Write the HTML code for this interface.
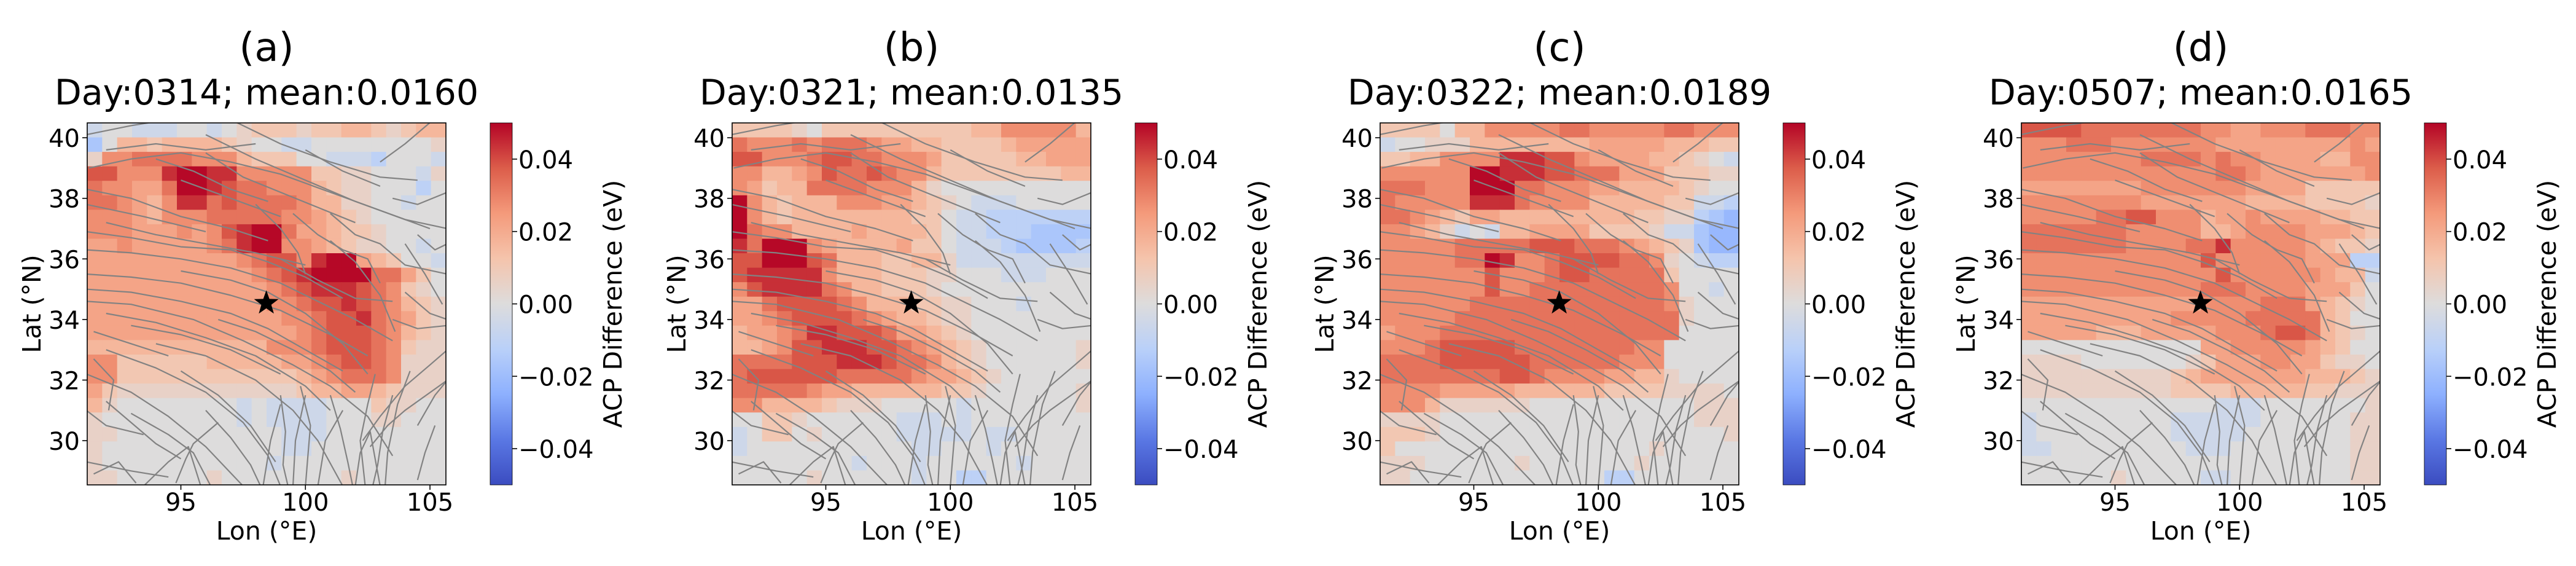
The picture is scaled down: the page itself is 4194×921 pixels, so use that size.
<!DOCTYPE html>
<html><head><meta charset="utf-8"><title>ACP Difference maps</title>
<style>
html,body{margin:0;padding:0;background:#fff;}
svg{display:block;}
text{font-family:"DejaVu Sans","Liberation Sans",sans-serif;fill:#000;}
</style></head>
<body>
<svg id="fig" xmlns="http://www.w3.org/2000/svg" width="4194" height="921" viewBox="0 0 4194 921">
<defs>
<linearGradient id="cw" x1="0" y1="1" x2="0" y2="0">
<stop offset="0" stop-color="#3b4cc0"/><stop offset="0.125" stop-color="#5a78e4"/><stop offset="0.25" stop-color="#8db0fe"/><stop offset="0.375" stop-color="#b9d0f9"/><stop offset="0.5" stop-color="#dddcdc"/><stop offset="0.625" stop-color="#f5c4ac"/><stop offset="0.75" stop-color="#f49a7b"/><stop offset="0.875" stop-color="#dc5d4a"/><stop offset="1" stop-color="#b40426"/>
</linearGradient>
</defs>
</svg>
<script>
// ---- data: grid rows from north (top) to south; char level: e..a = -5..-1, 0..9 = 0..9 ; value = level*levelStep eV
const levelStep = 0.0055;
const panelLabels = ["(a)","(b)","(c)","(d)"];
const panelTitles = ["Day:0314; mean:0.0160","Day:0321; mean:0.0135","Day:0322; mean:0.0189","Day:0507; mean:0.0165"];
const gridA = [
"a00aaa00a012221223321233","c033233332100aa000000001","1556666555322200aaab000a","7755589988555552211000a1",
"6554469987665553211000b0","665435886766665331100a00","555435556666655432100000","555444545789964432210000",
"4454444456899554321100a0","44444444445677589943200a","444444444445678999966420","444444444444567888765210",
"444444444444556778765321","444444444444455677865421","444444444444445677765321","333333333333555677765211",
"552222223333344567765111","552222222222223456665111","421111111111112334432111","3100000000a0aaaa00021100",
"1000000000a0aaaa00011000","1100000000000aaa00000000","1000000000000aa000000000","100000000000a00000000000",
"110000001000000001000000"];
const gridB = [
"222210222222222233555553","655565666544332222344444","775556776655542222233444","553345766765532222222233",
"542336666555310000000000","9532333555443210aaa00000","953233333333220aabbbbbbb","965533334333320aabbbcccc",
"869995433334220aaabccccb","779997633322331aaaaaaaaa","788888533322211000aaa000","578888653322210000000000",
"4467777653332211000a0000","445677776543321100000000","344568877764432100000000","334577888776543210000001",
"666677788876653210000001","677777766666544321000000","666665443333332210000001","553333211100000a00000001",
"00221000000aaa0a00000000","a0220100000aaaaa0aa00000","a00000000000aa000a000000","00000000a000a000000a0000",
"000001000000a00bb0000000"];
const gridC = [
"222203355555665555566555","a00111333333334444433322","22335555888775444433210a","555555998887766644422211",
"666555999665554433332100","655555888655553333322aab","665432443333333332211bcd","55431a0a33444422221aacdd",
"555556666677766654321cdd","555556698556777766510abb","555555575556776666620000","5555555755666666666500a0",
"555555666666666666651000","555556666666666666661000","455566666666666666660000","555677777666666665500000",
"666677777766666655500000","666666667765555443310000","555544444333333222211110","555311111100000000000111",
"111100000000000000000111","222100000000000000000001","200000000000000000100000","111000000100000001000000",
"110000000000000bb0000000"];
const gridD = [
"777766666666554455566655","555666555555544444444454","555555556666565544443355","555555555555566544444445",
"444444445555555444422222","555555554444444333322221","555556677555344544443322","666666655555334555544432",
"666666655556685555543221","5555555555557555555444bb","55555555555557555555433a","555555555555666555544420",
"444444444444555566643210","444444444455555666663200","444443334444455567763210","000000000000445555543200",
"111100000001244455442110","111111111123444444433321","111111111122223333322111","0000000000000aaa00000001",
"a000000000aaaaaa00000011","a000000000aaaaa000000011","aa000000000aaa0000000011","000000000000000000000011",
"000000100000aa0000000011"];
const grids = [gridA, gridB, gridC, gridD];
const xTicks = [95, 100, 105];
const yTicks = [30, 32, 34, 36, 38, 40];
const cbTicks = [-0.04, -0.02, 0.00, 0.02, 0.04];
const cbTickLabels = ["\u22120.04","\u22120.02","0.00","0.02","0.04"];
const epicenter = [98.43, 34.54];
const vmin = -0.05, vmax = 0.05;

// ---- layout
const SVGNS = "http://www.w3.org/2000/svg";
const svg = document.getElementById('fig');
const axLefts = [142, 1192, 2247, 3291];
const axW = 584, axTop = 200, axH = 589;
const lonMin = 91.24, lonMax = 105.64, latMin = 28.54, latMax = 40.49;
const nCols = 24, nRows = 25;

const faults = [
[[91.3,39.0],[93,39.3],[95,39.5],[97,39.2],[99,38.8],[101,38.2],[103,37.6],[105,37.0]],
[[96,40.1],[98,39.3],[100,38.6],[102,37.9],[104,37.3],[105.7,37]],
[[91.2,40.1],[93,40.4],[94.5,40.6]],
[[97,40.6],[99,39.8],[101,39.2],[103,38.7],[104.5,38.6]],
[[91.2,38.3],[93,38.0],[95,37.4],[97,37.0],[98.5,36.6]],
[[91.2,36.3],[93,36.2],[95,36.0],[97,35.7],[99,35.2],[100.5,34.6],[102,34.0],[103.5,33.3]],
[[91.2,35.5],[93,35.4],[95,35.2],[97,34.8],[99,34.3],[101,33.5],[102.5,32.8]],
[[91.2,34.6],[93,34.5],[95.5,34.0],[97.5,33.3],[99.5,32.5],[101,31.8],[102.5,30.8],[103.5,29.5]],
[[94,33.2],[96,32.8],[98,32.0],[99.5,31.0],[100.5,30.0],[101.5,28.5]],
[[92,33],[94,32.4],[96,31.6],[97.5,30.6],[98.5,29.5],[99,28.5]],
[[91.2,32.2],[93,31.6],[94.5,30.8],[96,29.8],[97.5,28.5]],
[[93,30.9],[94.5,30.2],[95.5,29.6],[96.2,28.5]],
[[91.2,29.3],[93,29.0],[94.5,28.8]],
[[93.5,28.5],[94.5,29.3],[95.3,29.8],[95.8,28.5]],
[[102.3,30],[103,30.8],[104,31.8],[105,32.5],[105.7,33]],
[[102.6,29.8],[103.3,30.5],[104,31],[105.7,32]],
[[102,28.5],[102.2,29.6],[102.6,30.3],[103,28.5]],
[[99.5,37.5],[100.5,36.8],[101.5,36.3],[102.5,36.0],[103,35.2]],
[[98,37.8],[99,37],[99.7,36.2],[100,35.5]],
[[101,37.5],[102,36.8],[103,36.5],[104,35.8],[105.7,35.5]],
[[103.5,38],[104.5,37.8],[105.7,38.2]],
[[104,36.5],[104.8,35.5],[105.5,34.5]],
[[103.5,34],[104.5,33.7],[105.7,33.8]],
[[98.3,28.5],[98.6,30],[99,31.2]],
[[99.5,28.5],[99.6,30],[100,31.5]],
[[100.5,28.5],[100.8,30],[101.5,31]],
[[92,37.2],[94,36.8],[96,36.5],[98,36.2],[100,35.8]],
[[93,33.8],[95,33.5],[97,33.0],[99,32.2]],
[[91.2,31],[92,30.5],[93.5,30.2]],
[[104.5,30.5],[105.2,31.5],[105.7,32.0]],
[[91.2,37.8],[93.5,37.4],[96,36.9]],
[[95,38.6],[97,38.0],[99,37.4]],
[[92,39.6],[94,39.8],[96,39.6],[98,39.8]],
[[94,39.3],[95.5,38.9],[97,38.3],[98.5,37.9]],
[[96,39.5],[97.5,38.7],[99,38.2],[100.5,37.7],[102,37.2]],
[[100,39.6],[101.5,38.9],[103,38.4]],
[[103,39.2],[104,39.8],[105,40.5]],
[[91.2,36.9],[93,36.7],[95,36.4],[97,36.3],[98.5,35.9],[100,35.4],[101.5,34.7]],
[[91.2,35.0],[93,34.9],[95,34.6],[97,34.2],[98.5,33.7],[100,33.0],[101.5,32.3]],
[[92,34.2],[94,33.9],[96,33.4],[98,32.8],[100,31.8],[101,31.0]],
[[95,35.6],[97,35.3],[98.5,34.9],[100,34.2],[101.5,33.2],[102.5,32.2]],
[[96.5,34.0],[98,33.6],[99.5,33.0],[101,32.3],[102,31.6]],
[[99,36.0],[100.5,35.3],[102,34.7],[103.5,34.6]],
[[101,36.6],[102,35.9],[103,34.8],[103.6,33.6]],
[[91.5,33.6],[93,33.2],[94.5,32.8]],
[[95,32.3],[96.5,31.5],[97.8,30.5],[98.8,29.3]],
[[96,31.0],[97,30.1],[97.8,29.2],[98.2,28.5]],
[[99,31.5],[99.2,30.3],[99.1,29.2],[99.3,28.5]],
[[99.8,31.8],[100.2,30.5],[100.1,29.5],[100.0,28.5]],
[[101,31.5],[101.4,30.4],[101.7,29.3],[101.9,28.5]],
[[102.8,32.2],[102.5,31.2],[102.2,30.0],[102.4,28.5]],
[[103.5,31.5],[103.1,30.3],[102.9,29.2],[102.7,28.5]],
[[104.2,32.3],[103.7,31.2],[103.3,29.6],[103.2,28.5]],
[[105.2,30.5],[104.8,29.6],[104.5,28.7]],
[[92,31.3],[93,30.6],[94,29.9],[95,29.4]],
[[91.5,28.9],[92.5,29.3],[93.2,28.6]],
[[94.8,28.6],[95.2,29.4],[95.5,29.9],[96.5,30.6]],
[[104,34.9],[105,34.2],[105.7,34.0]],
[[104.5,36.8],[105.2,36.3],[105.7,36.5]],
[[91.5,32.7],[92.3,32.0],[92.1,31.0]]
];

const cmap = [[59,76,192],[90,120,228],[141,176,254],[185,208,249],[221,220,220],[245,196,172],[244,154,123],[220,93,74],[180,4,38]];
function colorOf(v){
  let t = (v - vmin)/(vmax - vmin); t = Math.max(0, Math.min(1, t));
  const p = t*(cmap.length-1), i = Math.min(cmap.length-2, Math.floor(p)), f = p - i;
  const c = cmap[i].map((a,k)=>Math.round(a + (cmap[i+1][k]-a)*f));
  return `rgb(${c[0]},${c[1]},${c[2]})`;
}
function levelOf(ch){
  const neg = "abcde".indexOf(ch);
  if (neg >= 0) return -(neg+1);
  const d = parseInt(ch, 10);
  return isNaN(d) ? 0 : d;
}
function mk(tag, attrs, parent){
  const e = document.createElementNS(SVGNS, tag);
  for (const k in attrs) e.setAttribute(k, attrs[k]);
  (parent||svg).appendChild(e);
  return e;
}
function txt(s, attrs, parent){ const e = mk('text', attrs, parent); e.textContent = s; return e; }

grids.forEach((grid, pi) => {
  const L = axLefts[pi];
  const xs = lon => L + (lon - lonMin)/(lonMax - lonMin)*axW;
  const ys = lat => axTop + (latMax - lat)/(latMax - latMin)*axH;
  const g = mk('g', {});
  
  

  const lab = txt(panelLabels[pi], {x: L + axW/2, y: 99, 'text-anchor':'middle', 'font-size': 64}, g);
  
  
  const ttl = txt(panelTitles[pi], {x: L + axW/2, y: 170, 'text-anchor':'middle', 'font-size': 57}, g);
  
  

  const clipId = 'clip' + pi;
  const cp = mk('clipPath', {id: clipId}, g);
  mk('rect', {x: L, y: axTop, width: axW, height: axH}, cp);

  const hm = mk('g', {'clip-path': `url(#${clipId})`}, g);
  
  
  const cw = (lonMax - lonMin)/nCols, ch = (latMax - latMin)/nRows;
  for (let r = 0; r < nRows; r++){
    const row = (grid[r] || "").padEnd(nCols, '0');
    for (let c = 0; c < nCols; c++){
      const v = levelOf(row[c]) * levelStep;
      const lon0 = lonMin + c*cw, lat0 = latMax - r*ch;
      const x0 = xs(lon0), x1 = xs(lon0 + cw), y0 = ys(lat0), y1 = ys(lat0 - ch);
      const cell = mk('rect', {x: x0.toFixed(2), y: y0.toFixed(2), width: (x1-x0+0.6).toFixed(2), height: (y1-y0+0.6).toFixed(2), fill: colorOf(v)}, hm);
      
      
    }
  }
  const fg = mk('g', {'clip-path': `url(#${clipId})`, fill:'none', stroke:'#828282', 'stroke-width': 2.2, 'stroke-linejoin':'round'}, g);
  
  
  faults.forEach(f => {
    const p = mk('polyline', {points: f.map(q => xs(q[0]).toFixed(1)+','+ys(q[1]).toFixed(1)).join(' ')}, fg);
    
    
  });

  // star
  const sx = xs(epicenter[0]), sy = ys(epicenter[1]), R = 21, r2 = 8.5;
  let pts = [];
  for (let k = 0; k < 10; k++){
    const a = -Math.PI/2 + k*Math.PI/5, rr = k%2 ? r2 : R;
    pts.push((sx + rr*Math.cos(a)).toFixed(1) + ',' + (sy + rr*Math.sin(a)).toFixed(1));
  }
  const star = mk('polygon', {points: pts.join(' '), fill:'#000'}, g);
  
  

  const frame = mk('rect', {x: L, y: axTop, width: axW, height: axH, fill:'none', stroke:'#000', 'stroke-width': 1.6}, g);
  
  

  xTicks.forEach(t => {
    const x = xs(t);
    const tk = mk('line', {x1: x, x2: x, y1: axTop+axH, y2: axTop+axH+8, stroke:'#000', 'stroke-width':1.6}, g);
    
    
    const tl = txt(String(t), {x: x, y: 831, 'text-anchor':'middle', 'font-size': 40}, g);
    
    
  });
  yTicks.forEach(t => {
    const y = ys(t);
    const tk = mk('line', {x1: L-8, x2: L, y1: y, y2: y, stroke:'#000', 'stroke-width':1.6}, g);
    
    
    const tl = txt(String(t), {x: L-12, y: y+15, 'text-anchor':'end', 'font-size': 40}, g);
    
    
  });
  const xl = txt("Lon (\u00b0E)", {x: L + axW/2, y: 878, 'text-anchor':'middle', 'font-size': 41}, g);
  
  
  const yl = txt("Lat (\u00b0N)", {x: 0, y: 0, 'text-anchor':'middle', 'font-size': 41, transform: `translate(${L-76},${axTop+axH/2}) rotate(-90)`}, g);
  
  

  // colorbar
  const cbL = L + 656, cbW = 36;
  const cbY = v => axTop + (vmax - v)/(vmax - vmin)*axH;
  const cb = mk('rect', {x: cbL, y: axTop, width: cbW, height: axH, fill:'url(#cw)', stroke:'#000', 'stroke-width':0.8}, g);
  
  
  cbTicks.forEach((t, i) => {
    const y = cbY(t);
    const tk = mk('line', {x1: cbL+cbW, x2: cbL+cbW+8, y1: y, y2: y, stroke:'#000', 'stroke-width':1.6}, g);
    
    
    const tl = txt(cbTickLabels[i], {x: cbL+cbW+10, y: y+15, 'font-size': 40}, g);
    
    
  });
  const cl = txt("ACP Difference (eV)", {x: 0, y: 0, 'text-anchor':'middle', 'font-size': 41, transform: `translate(${L+870},${axTop+axH/2}) rotate(-90)`}, g);
  
  
});
</script>
</body></html>
